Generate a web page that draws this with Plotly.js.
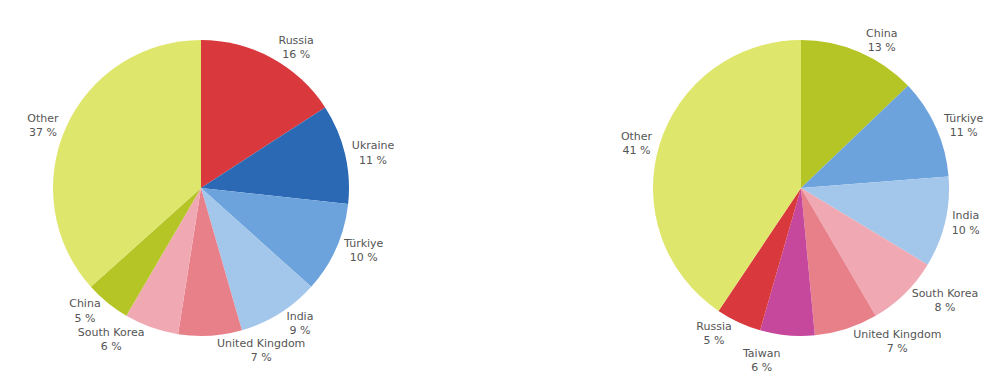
<!DOCTYPE html>
<html>
<head>
<meta charset="utf-8">
<script src="https://cdn.plot.ly/plotly-3.0.1.min.js"></script>
<style>html,body{margin:0;padding:0;background:#fff;}#chart{width:1003px;height:378px;}
path.textline{display:none !important;}</style>
</head>
<body>
<div id="chart"></div>
<script>
const leftLabels = ["Russia", "Ukraine", "Türkiye", "India", "United Kingdom", "South Korea", "China", "Other"];
const leftValues = [16, 11, 10, 9, 7, 6, 5, 37];
const rightLabels = ["China", "Türkiye", "India", "South Korea", "United Kingdom", "Taiwan", "Russia", "Other"];
const rightValues = [13, 11, 10, 8, 7, 6, 5, 41];

const colorMap = {
  "Russia": "#d9383d",
  "Ukraine": "#2b69b4",
  "Türkiye": "#6ca3dc",
  "India": "#a3c6eb",
  "United Kingdom": "#e8808a",
  "South Korea": "#f0a9b3",
  "China": "#b6c526",
  "Taiwan": "#c6489c",
  "Other": "#dfe66c"
};

function pieTrace(labels, values, x0, x1) {
  return {
    type: "pie",
    labels: labels,
    values: values,
    sort: false,
    direction: "clockwise",
    rotation: 0,
    marker: { colors: labels.map(l => colorMap[l]), line: { width: 0 } },
    textposition: "outside",
    texttemplate: "%{label}<br>%{value} %",
    textfont: { family: "DejaVu Sans, Arial, sans-serif", size: 11, color: "#555" },
    hoverinfo: "label+value",
    showlegend: false,
    domain: { x: [x0, x1], y: [0, 1] }
  };
}

const W = 1003;
const data = [
  pieTrace(leftLabels, leftValues, (201 - 148) / W, (201 + 148) / W),
  pieTrace(rightLabels, rightValues, (801 - 148) / W, (801 + 148) / W)
];

const layout = {
  width: 1003,
  height: 378,
  margin: { l: 0, r: 0, t: 40, b: 42 },
  paper_bgcolor: "#fff",
  showlegend: false
};

Plotly.newPlot("chart", data, layout, { displayModeBar: false, staticPlot: true });
</script>
</body>
</html>
